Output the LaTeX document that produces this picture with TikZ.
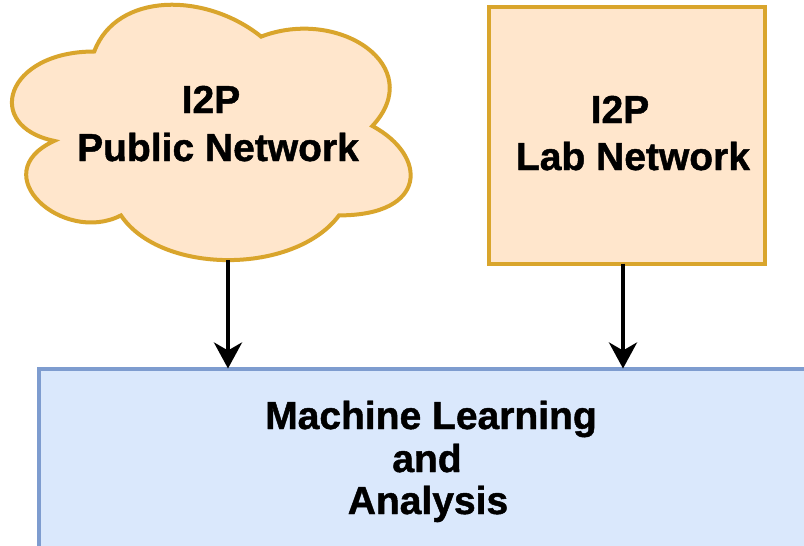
\documentclass[tikz,border=0pt]{standalone}
\usepackage{fontspec}
\setmainfont{Liberation Sans}[BoldFeatures={FakeBold=1.2}]
\usetikzlibrary{arrows.meta}
\definecolor{peachfill}{HTML}{FFE6CC}
\definecolor{goldline}{HTML}{D9A52C}
\definecolor{bluefill}{HTML}{DAE8FC}
\definecolor{blueline}{HTML}{7E9CCF}
\tikzset{
  bigtext/.style={font=\bfseries\fontsize{39}{47}\selectfont, anchor=base, inner sep=0pt},
  mltext/.style={font=\bfseries\fontsize{39}{43}\selectfont, anchor=base, inner sep=0pt},
  conn/.style={line width=4pt, -{Stealth[length=26pt,width=28pt,inset=8pt]}},
  orangebox/.style={draw=goldline, fill=peachfill, line width=4pt, inner sep=0pt, outer sep=0pt},
  bluebox/.style={draw=blueline, fill=bluefill, line width=4pt, inner sep=0pt, outer sep=0pt}
}
\begin{document}
\begin{tikzpicture}[x=1pt,y=-1pt]
\path[use as bounding box, clip] (0,0) rectangle (804,546);
\fill[white] (0,0) rectangle (804,546);
% cloud
\draw[orangebox]
  (94.25,51.5) .. controls (5.25,51.5) and (-17,126) .. (54.2,140.9)
  .. controls (-17,173.68) and (63.1,245.2) .. (120.95,215.4)
  .. controls (161,275) and (294.5,275) .. (339,215.4)
  .. controls (428,215.4) and (428,155.8) .. (372.375,126)
  .. controls (428,66.4) and (339,6.8) .. (261.125,36.6)
  .. controls (205.5,-8.1) and (116.5,-8.1) .. (94.25,51.5) -- cycle;
\coordinate (cloudbottom) at (228,260);
\node[bigtext] (pub1) at (211,113) {I2P};
\node[bigtext] (pub2) at (218,161) {Public Network};
% lab box
\node[orangebox, minimum width=276pt, minimum height=257pt] (lab) at (626.5,135) {};
\node[bigtext] (lab1) at (620,123) {I2P};
\node[bigtext] (lab2) at (633,170) {Lab Network};
% ML box
\node[bluebox, minimum width=786pt, minimum height=181pt] (ml) at (431.5,459) {};
\node[mltext] (ml1) at (431,429) {Machine Learning};
\node[mltext] (ml2) at (427,472) {and};
\node[mltext] (ml3) at (428,514) {Analysis};
% connectors
\draw[conn] (cloudbottom) -- (cloudbottom |- ml.north);
\draw[conn] (lab.south -| 623,0) -- (623,0 |- ml.north);
\end{tikzpicture}
\end{document}
